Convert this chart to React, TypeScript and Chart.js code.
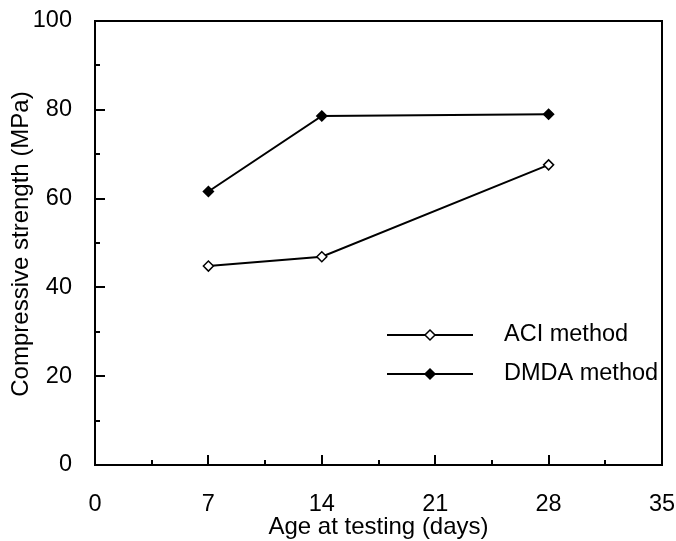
import React, { useEffect, useRef } from "react";
import { Chart, registerables } from "chart.js";

Chart.register(...registerables);

const ages = [7, 14, 28];
const aciValues = [44.8, 46.9, 67.6];
const dmdaValues = [61.6, 78.6, 79.0];
const seriesLabels = ["ACI method", "DMDA method"];
const xTitle = "Age at testing (days)";
const yTitle = "Compressive strength (MPa)";

const FONT = '"Liberation Sans", Arial, sans-serif';
const FS = 23.5;
const TFS = 24;

const framePlugin = {
  id: "frame",
  afterDraw(chart: any) {
    const { ctx, chartArea: a, scales } = chart;
    const xs = scales.x;
    const ys = scales.y;
    ctx.save();
    ctx.strokeStyle = "#000";
    ctx.lineWidth = 2;
    ctx.beginPath();
    for (let v = 3.5; v < 35; v += 3.5) {
      const px = Math.round(xs.getPixelForValue(v));
      const major = Math.abs(v / 7 - Math.round(v / 7)) < 1e-6;
      const len = major ? 10 : 5;
      ctx.moveTo(px, a.bottom);
      ctx.lineTo(px, a.bottom - len);
    }
    for (let v = 10; v < 100; v += 10) {
      const py = Math.round(ys.getPixelForValue(v));
      const major = v % 20 === 0;
      const len = major ? 10 : 5;
      ctx.moveTo(a.left, py);
      ctx.lineTo(a.left + len, py);
    }
    ctx.stroke();
    ctx.lineWidth = 2;
    ctx.strokeRect(a.left, a.top, a.right - a.left, a.bottom - a.top);

    ctx.fillStyle = "#000";
    ctx.font = `${TFS}px ${FONT}`;
    ctx.textAlign = "center";
    ctx.textBaseline = "middle";
    ctx.fillText(xTitle, (a.left + a.right) / 2, 527);
    ctx.save();
    ctx.translate(21, 244);
    ctx.rotate(-Math.PI / 2);
    ctx.fillText(yTitle, 0, 0);
    ctx.restore();

    ctx.font = `${FS}px ${FONT}`;
    const rows = [335, 374];
    chart.data.datasets.forEach((ds: any, i: number) => {
      const y = rows[i];
      ctx.lineWidth = 2;
      ctx.strokeStyle = "#000";
      ctx.beginPath();
      ctx.moveTo(387, y);
      ctx.lineTo(473, y);
      ctx.stroke();
      const r = 5;
      ctx.beginPath();
      ctx.moveTo(430, y - r);
      ctx.lineTo(430 + r, y);
      ctx.lineTo(430, y + r);
      ctx.lineTo(430 - r, y);
      ctx.closePath();
      ctx.fillStyle = ds.pointBackgroundColor;
      ctx.fill();
      ctx.lineWidth = 1.5;
      ctx.stroke();
      ctx.fillStyle = "#000";
      ctx.textAlign = "left";
      ctx.fillText(ds.label, 504, y);
    });
    ctx.restore();
  },
};

export default function App() {
  const ref = useRef<HTMLCanvasElement>(null);
  useEffect(() => {
    if (!ref.current) return;
    const mk = (vals: number[]) => ages.map((x, i) => ({ x, y: vals[i] }));
    const chart = new Chart(ref.current, {
      type: "line",
      data: {
        datasets: [
          {
            label: seriesLabels[0],
            data: mk(aciValues),
            borderColor: "#000",
            borderWidth: 2,
            pointStyle: "rectRot",
            pointRadius: 5,
            pointBackgroundColor: "#fff",
            pointBorderColor: "#000",
            pointBorderWidth: 1.5,
            tension: 0,
          },
          {
            label: seriesLabels[1],
            data: mk(dmdaValues),
            borderColor: "#000",
            borderWidth: 2,
            pointStyle: "rectRot",
            pointRadius: 5,
            pointBackgroundColor: "#000",
            pointBorderColor: "#000",
            pointBorderWidth: 1.5,
            tension: 0,
          },
        ],
      },
      options: {
        animation: false,
        responsive: false,
        devicePixelRatio: 1,
        layout: { padding: { left: 0, right: 14, top: 21, bottom: 0 } },
        plugins: { legend: { display: false }, tooltip: { enabled: false } },
        scales: {
          x: {
            type: "linear",
            min: 0,
            max: 35,
            grid: { display: false, drawTicks: false },
            border: { display: false },
            ticks: {
              stepSize: 7,
              padding: 25,
              color: "#000",
              maxRotation: 0,
              font: { family: FONT, size: FS },
            },
            afterFit: (s: any) => {
              s.height = 76;
              s.paddingLeft = 0;
              s.paddingRight = 0;
            },
          },
          y: {
            min: 0,
            max: 100,
            grid: { display: false, drawTicks: false },
            border: { display: false },
            ticks: {
              stepSize: 20,
              padding: 23,
              color: "#000",
              font: { family: FONT, size: FS },
            },
            afterFit: (s: any) => {
              s.width = 95;
              s.paddingTop = 0;
              s.paddingBottom = 0;
            },
          },
        },
      },
      plugins: [framePlugin],
    });
    return () => chart.destroy();
  }, []);
  return (
    <div style={{ position: "fixed", left: 0, top: 0, width: 676, height: 541, background: "#fff" }}>
      <canvas ref={ref} width={676} height={541} style={{ width: 676, height: 541 }} />
    </div>
  );
}
